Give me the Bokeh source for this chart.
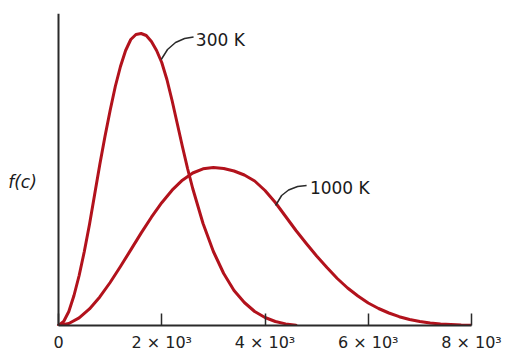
from bokeh.plotting import figure
from bokeh.models import Range1d, FixedTicker, Label, Span
from bokeh.embed import file_html
from bokeh.resources import INLINE

# ---- data (speed c in m/s, f(c) in relative units) ----
speed_300 = [0, 100, 200, 300, 400, 500, 600, 700, 800, 900, 1000, 1100, 1200, 1300,
             1400, 1500, 1600, 1700, 1800, 1900, 2000, 2100, 2200, 2300, 2400, 2500,
             2600, 2800, 3000, 3200, 3400, 3600, 3800, 4000, 4200, 4400, 4600]
f_300 = [0, 4, 14, 30, 50, 74, 101, 131, 161, 189, 215, 239, 259, 275,
         286, 291, 292, 290, 284, 275, 263, 246, 225, 202, 179, 157,
         137, 102, 74, 52, 35, 23, 14, 8, 4, 1.6, 0.3]

speed_1000 = [0, 200, 400, 600, 800, 1000, 1200, 1400, 1600, 1800, 2000, 2200, 2400,
              2600, 2800, 3000, 3200, 3400, 3600, 3800, 4000, 4200, 4400, 4600, 4800,
              5000, 5200, 5400, 5600, 5800, 6000, 6200, 6400, 6600, 6800, 7000, 7200,
              7400, 7600, 7800, 8000]
f_1000 = [0, 2, 7.6, 16.6, 28.6, 43, 59, 75.6, 92.4, 108.3, 122.8, 135.3, 145.3,
          152.5, 156.7, 158, 157, 154.5, 150.5, 144.5, 135, 123, 109, 95, 82,
          69.5, 58, 47, 37.5, 29.5, 22.5, 17, 12.5, 8.8, 6, 4, 2.6,
          1.6, 0.9, 0.4, 0.2]

tick_values = [0, 2000, 4000, 6000, 8000]
tick_labels = ["0", "2 × 10³", "4 × 10³", "6 × 10³", "8 × 10³"]
series_names = ["300 K", "1000 K"]
y_label = "f(c)"

# ---- annotation geometry (leader lines and label anchors) ----
lead_300_x = [1990, 2112, 2267, 2442, 2616]
lead_300_y = [266, 276, 283, 287, 288.5]
lead_1000_x = [4205, 4322, 4457, 4632, 4806]
lead_1000_y = [120, 130, 135.5, 139, 140]
label_pos = [(2660, 286), (4870, 138)]
y_label_pos = (-975, 144)

RED = "#b2121c"
INK = "#2a2a2a"
FONT = "DejaVu Sans"

# frame spans the full left margin so the f(c) label sits inside it;
# data x = 0 lands 58 px from the left edge
p = figure(width=510, height=361, output_backend="svg", toolbar_location=None,
           x_range=Range1d(-1123.5, 8000), y_range=Range1d(0, 312),
           min_border_left=0, min_border_right=39, min_border_top=13,
           min_border_bottom=36)
p.xgrid.visible = False
p.ygrid.visible = False
p.outline_line_color = None
p.background_fill_color = "white"
p.border_fill_color = "white"
p.yaxis.visible = False

# y axis drawn as a vertical rule at c = 0
p.add_layout(Span(location=0, dimension="height", line_color=INK, line_width=2))

# x axis
p.xaxis.bounds = (tick_values[0], tick_values[-1])
p.xaxis.ticker = FixedTicker(ticks=tick_values, minor_ticks=[])
p.xaxis.major_label_overrides = dict(zip(tick_values, tick_labels))
p.xaxis.major_tick_in = 12
p.xaxis.major_tick_out = 0
p.xaxis.major_tick_line_color = INK
p.xaxis.major_tick_line_width = 1.5
p.xaxis.minor_tick_line_color = None
p.xaxis.axis_line_color = INK
p.xaxis.axis_line_width = 2
p.xaxis.major_label_standoff = 7
p.xaxis.major_label_text_font = FONT
p.xaxis.major_label_text_font_size = "16px"
p.xaxis.major_label_text_color = "#222222"

p.line(speed_300, f_300, line_color=RED, line_width=3, line_join="round", line_cap="round")
p.line(speed_1000, f_1000, line_color=RED, line_width=3, line_join="round", line_cap="round")

p.line(lead_300_x, lead_300_y, line_color=INK, line_width=1.5)
p.line(lead_1000_x, lead_1000_y, line_color=INK, line_width=1.5)

for name, (lx, ly) in zip(series_names, label_pos):
    p.add_layout(Label(x=lx, y=ly, text=name, text_font=FONT, text_font_size="17px",
                       text_color="#1a1a1a", text_baseline="middle", text_align="left"))

p.add_layout(Label(x=y_label_pos[0], y=y_label_pos[1], text=y_label, text_font=FONT,
                   text_font_size="17px", text_font_style="italic", text_color="#1a1a1a",
                   text_baseline="middle", text_align="left"))

open("out.html", "w").write(file_html(p, INLINE))
